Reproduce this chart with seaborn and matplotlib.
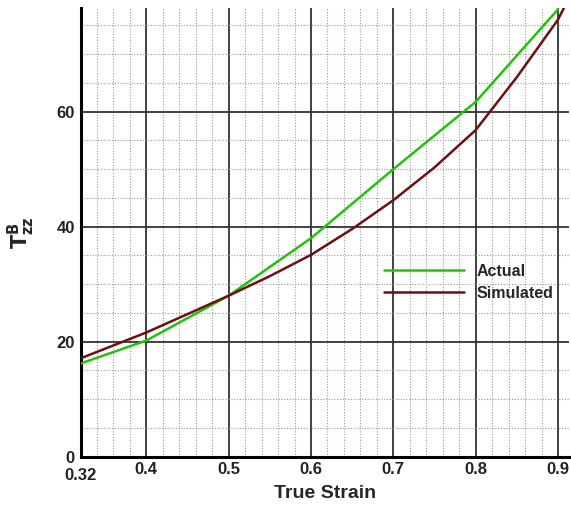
import matplotlib
matplotlib.use("Agg")
import matplotlib.pyplot as plt
import matplotlib.transforms as mtransforms
import seaborn as sns
import pandas as pd
from matplotlib.ticker import MultipleLocator, FixedLocator

# Measured stress component vs. true strain
strain_actual = [0.32, 0.40, 0.50, 0.60, 0.70, 0.80, 0.90]
tzz_actual = [16.2, 20.2, 28.0, 38.0, 50.0, 61.7, 77.8]

strain_sim = [0.32, 0.40, 0.45, 0.50, 0.55, 0.60, 0.65, 0.70, 0.75, 0.80, 0.85, 0.90, 0.907]
tzz_sim = [17.1, 21.6, 24.8, 28.0, 31.4, 35.1, 39.6, 44.6, 50.3, 56.8, 66.0, 76.0, 78.0]

series_names = ["Actual", "Simulated"]
x_ticks = [0.32, 0.4, 0.5, 0.6, 0.7, 0.8, 0.9]
x_tick_labels = ["0.32", "0.4", "0.5", "0.6", "0.7", "0.8", "0.9"]
y_ticks = [0, 20, 40, 60]

df = pd.concat([
    pd.DataFrame({"strain": strain_actual, "tzz": tzz_actual, "series": series_names[0]}),
    pd.DataFrame({"strain": strain_sim, "tzz": tzz_sim, "series": series_names[1]}),
])

sns.set_style("white")
plt.rcParams["font.family"] = ["Liberation Sans", "DejaVu Sans"]

fig = plt.figure(figsize=(5.71, 5.08), dpi=100)
ax = fig.add_axes([0.141, 0.101, 0.855, 0.883])

palette = {"Actual": "#22c40a", "Simulated": "#6e0f12"}
sns.lineplot(data=df, x="strain", y="tzz", hue="series", palette=palette,
             linewidth=1.8, sort=False, ax=ax, estimator=None, zorder=5)

ax.set_xlim(0.32, 0.913)
ax.set_ylim(0, 78)

ax.xaxis.set_major_locator(FixedLocator(x_ticks))
ax.set_xticklabels(x_tick_labels)
ax.yaxis.set_major_locator(FixedLocator(y_ticks))
ax.xaxis.set_minor_locator(MultipleLocator(0.02))
ax.yaxis.set_minor_locator(MultipleLocator(5))

ax.grid(which="major", color="#333333", linewidth=1.3, linestyle="-")
ax.grid(which="minor", color="#9a9a9a", linewidth=0.8, linestyle=(0, (1, 1.5)))
ax.set_axisbelow(True)

for side in ["top", "right"]:
    ax.spines[side].set_visible(False)
for side in ["left", "bottom"]:
    ax.spines[side].set_linewidth(2.2)
    ax.spines[side].set_color("black")

ax.tick_params(which="major", direction="in", length=7, width=1.5, labelsize=12,
               colors="black", pad=4)
ax.tick_params(which="minor", direction="in", length=4, width=1.0, colors="#444444")
for lbl in ax.get_xticklabels() + ax.get_yticklabels():
    lbl.set_fontweight("bold")
    lbl.set_color("#222222")

# push the first strain label below the zero label on the value axis
first = ax.get_xticklabels()[0]
first.set_transform(first.get_transform() +
                    mtransforms.ScaledTranslation(0, -4 / 72, fig.dpi_scale_trans))

ax.set_xlabel("True Strain", fontsize=14, fontweight="bold")
ax.xaxis.set_label_coords(0.5, -0.064)
ax.set_ylabel(r"$\mathbf{T^{B}_{zz}}$", fontsize=15, labelpad=14)

leg = ax.legend(loc="upper left", bbox_to_anchor=(0.592, 0.462), frameon=False,
                fontsize=11.5, handlelength=5.0, handletextpad=0.8,
                labelspacing=0.45)
for t in leg.get_texts():
    t.set_fontweight("bold")

fig.savefig("out.png", dpi=100)
